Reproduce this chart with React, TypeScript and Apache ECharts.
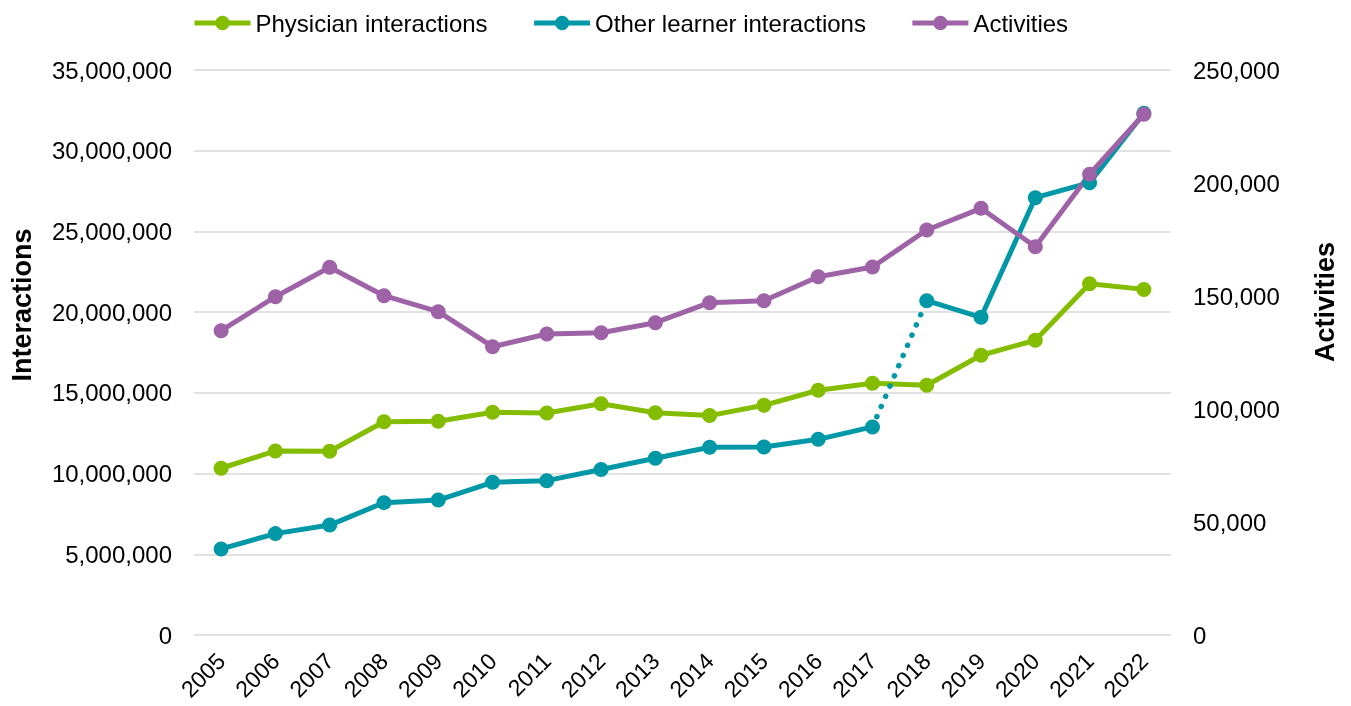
import React, { useEffect, useRef } from "react";
import * as echarts from "echarts";

const years = ["2005","2006","2007","2008","2009","2010","2011","2012","2013","2014","2015","2016","2017","2018","2019","2020","2021","2022"];

const physicianInteractions = [10330000, 11400000, 11380000, 13210000, 13240000, 13800000, 13750000, 14330000, 13770000, 13590000, 14230000, 15160000, 15590000, 15470000, 17330000, 18260000, 21760000, 21410000];

const otherLearnerInteractions = [5330000, 6280000, 6810000, 8200000, 8360000, 9460000, 9560000, 10250000, 10950000, 11630000, 11650000, 12120000, 12890000, 20710000, 19680000, 27090000, 28020000, 32320000];

const activities = [134650, 149700, 162700, 150140, 143060, 127570, 133200, 133770, 138190, 147040, 147920, 158550, 162830, 179200, 188800, 171820, 203850, 230400];

// index of the last year before the break in the "Other learner" series (2017)
const breakIndex = 12;

const FONT = 'Arial, "Liberation Sans", sans-serif';
const GREEN = "#84bd00";
const TEAL = "#0098a6";
const PURPLE = "#9e62a7";

const fmt = (v: number) => v.toLocaleString("en-US");

export default function App() {
  const ref = useRef<HTMLDivElement>(null);

  useEffect(() => {
    if (!ref.current) return;
    const chart = echarts.init(ref.current, null, { renderer: "svg" });

    const solidBefore = otherLearnerInteractions.map((v, i) => (i <= breakIndex ? v : null));
    const dottedGap = otherLearnerInteractions.map((v, i) => (i === breakIndex || i === breakIndex + 1 ? v : null));
    const solidAfter = otherLearnerInteractions.map((v, i) => (i > breakIndex ? v : null));

    const lineSeries = (name: string, data: (number | null)[], color: string, yAxisIndex: number) => ({
      name,
      type: "line",
      data,
      yAxisIndex,
      symbol: "circle",
      symbolSize: 15,
      showSymbol: true,
      connectNulls: false,
      itemStyle: { color },
      lineStyle: { color, width: 5 },
      emphasis: { disabled: true },
    });

    chart.setOption({
      animation: false,
      textStyle: { fontFamily: FONT },
      legend: {
        data: ["Physician interactions", "Other learner interactions", "Activities"],
        left: 187,
        top: 6,
        itemWidth: 56,
        itemHeight: 18,
        itemGap: 44,
        lineStyle: { width: 5 },
        textStyle: { fontSize: 24, color: "#000", fontFamily: FONT },
      },
      grid: { left: 194, right: 180, top: 70, bottom: 71, containLabel: false },
      xAxis: {
        type: "category",
        data: years,
        boundaryGap: true,
        axisLine: { show: false },
        axisTick: { show: false },
        axisLabel: { rotate: 45, fontSize: 23, color: "#000", margin: 22, fontFamily: FONT, interval: 0 },
      },
      yAxis: [
        {
          type: "value",
          min: 0,
          max: 35000000,
          interval: 5000000,
          axisLine: { show: false },
          axisTick: { show: false },
          axisLabel: { fontSize: 24, color: "#000", margin: 22, formatter: fmt, fontFamily: FONT },
          splitLine: { show: true, lineStyle: { color: "#d9d9d9", width: 1.5 } },
        },
        {
          type: "value",
          min: 0,
          max: 250000,
          interval: 50000,
          position: "right",
          axisLine: { show: false },
          axisTick: { show: false },
          axisLabel: { fontSize: 24, color: "#000", margin: 22, formatter: fmt, fontFamily: FONT },
          splitLine: { show: false },
        },
      ],
      graphic: [
        {
          type: "text",
          x: 22,
          y: 305,
          rotation: Math.PI / 2,
          style: { text: "Interactions", font: `bold 27px ${FONT}`, fill: "#000", textAlign: "center", textVerticalAlign: "middle" },
        },
        {
          type: "text",
          x: 1325,
          y: 302,
          rotation: Math.PI / 2,
          style: { text: "Activities", font: `bold 27px ${FONT}`, fill: "#000", textAlign: "center", textVerticalAlign: "middle" },
        },
      ],
      series: [
        lineSeries("Physician interactions", physicianInteractions, GREEN, 0),
        lineSeries("Other learner interactions", solidBefore, TEAL, 0),
        {
          ...lineSeries("Other learner interactions", dottedGap, TEAL, 0),
          showSymbol: false,
          symbol: "none",
          lineStyle: { color: TEAL, width: 5.5, type: [0.1, 11], cap: "round" },
        },
        lineSeries("Other learner interactions", solidAfter, TEAL, 0),
        lineSeries("Activities", activities, PURPLE, 1),
      ],
    });

    return () => chart.dispose();
  }, []);

  return <div ref={ref} style={{ position: "fixed", left: 0, top: 0, width: "1351px", height: "706px" }} />;
}
